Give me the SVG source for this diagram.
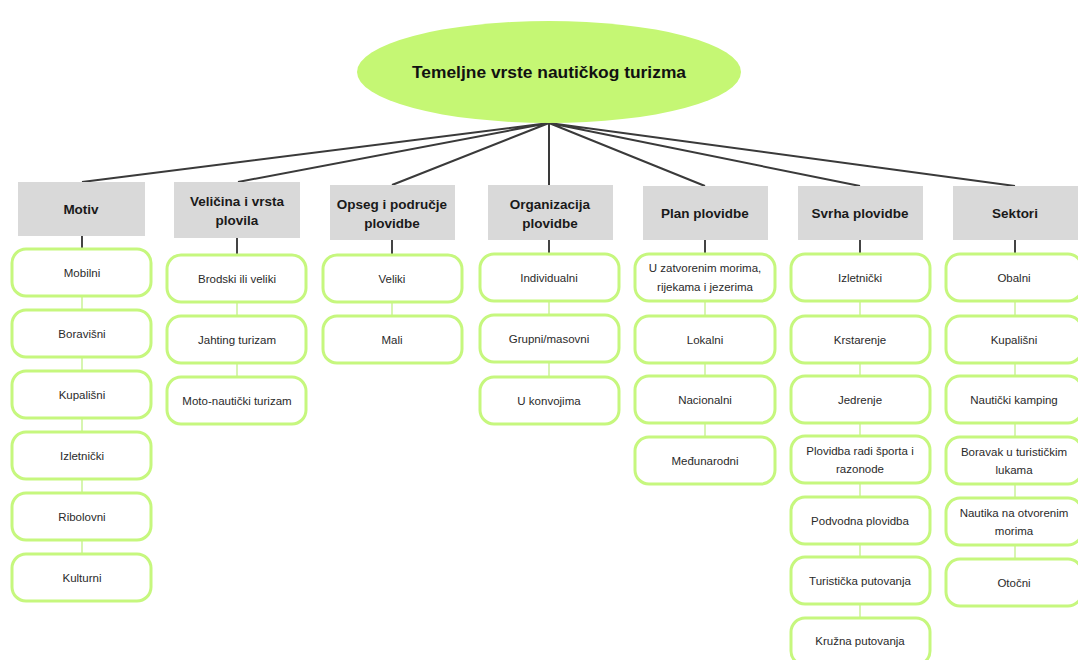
<svg xmlns="http://www.w3.org/2000/svg" width="1078" height="660" viewBox="0 0 1078 660">
<style>
.hdr{fill:#d9d9d9}
.ht{font-family:"Liberation Sans",Arial,sans-serif;font-weight:bold;font-size:13.5px;fill:#1a1a1a;text-anchor:middle}
.box{fill:#fff;stroke:#c6f77e;stroke-width:3}
.bt{font-family:"Liberation Sans",Arial,sans-serif;font-size:11.5px;fill:#2a2a2a;text-anchor:middle}
.main{stroke:#3a3a3a;stroke-width:2;fill:none}
.dk{stroke:#444;stroke-width:2;fill:none}
.gr{stroke:#d7f5b0;stroke-width:2;fill:none}
</style>
<rect width="1078" height="660" fill="#fff"/>
<g id="connectors">
<path class="main" d="M549 123L82 182M549 123L238 182M549 123L392 185M549 123L549 185M549 123L705 186M549 123L860 186M549 123L1015 186"/>
<path class="dk" d="M82 236V249M237 238V255M392 240V255M549 240V254M705 240V254M860 240V254M1015 240V254"/>
<path class="gr" d="M82 296V310M82 357V371M82 418V432M82 479V493M82 540V554"/>
<path class="gr" d="M237 302V316M237 363V377"/>
<path class="gr" d="M392 302V316"/>
<path class="gr" d="M549 301V315M549 362V377"/>
<path class="gr" d="M705 301V316M705 363V376M705 423V437"/>
<path class="gr" d="M860 301V316M860 363V376M860 423V436M860 483V497M860 544V557M860 604V618"/>
<path class="gr" d="M1015 301V316M1015 363V376M1015 423V437M1015 484V498M1015 545V559"/>
</g>
<g id="root">
<ellipse cx="549" cy="72" rx="192" ry="51" fill="#c5f774"/>
<text x="549" y="78" font-family="'Liberation Sans',Arial,sans-serif" font-weight="bold" font-size="17" fill="#111" text-anchor="middle" textLength="274" lengthAdjust="spacingAndGlyphs">Temeljne vrste nautičkog turizma</text>
</g>
<g id="h-motiv"><rect class="hdr" x="18" y="182" width="127" height="54"/><text class="ht" x="81" y="214">Motiv</text></g>
<g id="h-velicina"><rect class="hdr" x="174" y="182" width="126" height="56"/><text class="ht" x="237" y="206">Veličina i vrsta</text><text class="ht" x="237" y="225">plovila</text></g>
<g id="h-opseg"><rect class="hdr" x="330" y="185" width="125" height="55"/><text class="ht" x="392" y="209">Opseg i područje</text><text class="ht" x="392" y="228">plovidbe</text></g>
<g id="h-org"><rect class="hdr" x="488" y="185" width="125" height="55"/><text class="ht" x="550" y="209">Organizacija</text><text class="ht" x="550" y="228">plovidbe</text></g>
<g id="h-plan"><rect class="hdr" x="643" y="186" width="125" height="54"/><text class="ht" x="705" y="218">Plan plovidbe</text></g>
<g id="h-svrha"><rect class="hdr" x="798" y="186" width="125" height="54"/><text class="ht" x="860" y="218">Svrha plovidbe</text></g>
<g id="h-sektori"><rect class="hdr" x="953" y="186" width="130" height="54"/><text class="ht" x="1015" y="218">Sektori</text></g>

<g id="n-mobilni"><rect class="box" x="12" y="249" width="139" height="47" rx="14"/><text class="bt" x="82" y="277">Mobilni</text></g>
<g id="n-boravisni"><rect class="box" x="12" y="310" width="139" height="47" rx="14"/><text class="bt" x="82" y="338">Boravišni</text></g>
<g id="n-kupalisni1"><rect class="box" x="12" y="371" width="139" height="47" rx="14"/><text class="bt" x="82" y="399">Kupališni</text></g>
<g id="n-izletnicki1"><rect class="box" x="12" y="432" width="139" height="47" rx="14"/><text class="bt" x="82" y="460">Izletnički</text></g>
<g id="n-ribolovni"><rect class="box" x="12" y="493" width="139" height="47" rx="14"/><text class="bt" x="82" y="521">Ribolovni</text></g>
<g id="n-kulturni"><rect class="box" x="12" y="554" width="139" height="47" rx="14"/><text class="bt" x="82" y="582">Kulturni</text></g>

<g id="n-brodski"><rect class="box" x="167" y="255" width="139" height="47" rx="14"/><text class="bt" x="237" y="283">Brodski ili veliki</text></g>
<g id="n-jahting"><rect class="box" x="167" y="316" width="139" height="47" rx="14"/><text class="bt" x="237" y="344">Jahting turizam</text></g>
<g id="n-moto"><rect class="box" x="167" y="377" width="139" height="47" rx="14"/><text class="bt" x="237" y="405">Moto-nautički turizam</text></g>

<g id="n-veliki"><rect class="box" x="323" y="255" width="139" height="47" rx="14"/><text class="bt" x="392" y="283">Veliki</text></g>
<g id="n-mali"><rect class="box" x="323" y="316" width="139" height="47" rx="14"/><text class="bt" x="392" y="344">Mali</text></g>

<g id="n-individualni"><rect class="box" x="480" y="254" width="139" height="47" rx="14"/><text class="bt" x="549" y="282">Individualni</text></g>
<g id="n-grupni"><rect class="box" x="480" y="315" width="139" height="47" rx="14"/><text class="bt" x="549" y="343">Grupni/masovni</text></g>
<g id="n-konvoj"><rect class="box" x="480" y="377" width="139" height="47" rx="14"/><text class="bt" x="549" y="405">U konvojima</text></g>

<g id="n-zatvorenim"><rect class="box" x="635" y="254" width="140" height="47" rx="14"/><text class="bt" x="705" y="272">U zatvorenim morima,</text><text class="bt" x="705" y="291">rijekama i jezerima</text></g>
<g id="n-lokalni"><rect class="box" x="635" y="316" width="140" height="47" rx="14"/><text class="bt" x="705" y="344">Lokalni</text></g>
<g id="n-nacionalni"><rect class="box" x="635" y="376" width="140" height="47" rx="14"/><text class="bt" x="705" y="404">Nacionalni</text></g>
<g id="n-medunarodni"><rect class="box" x="635" y="437" width="140" height="47" rx="14"/><text class="bt" x="705" y="465">Međunarodni</text></g>

<g id="n-izletnicki2"><rect class="box" x="791" y="254" width="139" height="47" rx="14"/><text class="bt" x="860" y="282">Izletnički</text></g>
<g id="n-krstarenje"><rect class="box" x="791" y="316" width="139" height="47" rx="14"/><text class="bt" x="860" y="344">Krstarenje</text></g>
<g id="n-jedrenje"><rect class="box" x="791" y="376" width="139" height="47" rx="14"/><text class="bt" x="860" y="404">Jedrenje</text></g>
<g id="n-sport"><rect class="box" x="791" y="436" width="139" height="47" rx="14"/><text class="bt" x="860" y="455">Plovidba radi športa i</text><text class="bt" x="860" y="473">razonode</text></g>
<g id="n-podvodna"><rect class="box" x="791" y="497" width="139" height="47" rx="14"/><text class="bt" x="860" y="525">Podvodna plovidba</text></g>
<g id="n-turisticka"><rect class="box" x="791" y="557" width="139" height="47" rx="14"/><text class="bt" x="860" y="585">Turistička putovanja</text></g>
<g id="n-kruzna"><rect class="box" x="791" y="618" width="139" height="47" rx="14"/><text class="bt" x="860" y="645">Kružna putovanja</text></g>

<g id="n-obalni"><rect class="box" x="946" y="254" width="136" height="47" rx="14"/><text class="bt" x="1014" y="282">Obalni</text></g>
<g id="n-kupalisni2"><rect class="box" x="946" y="316" width="136" height="47" rx="14"/><text class="bt" x="1014" y="344">Kupališni</text></g>
<g id="n-kamping"><rect class="box" x="946" y="376" width="136" height="47" rx="14"/><text class="bt" x="1014" y="404">Nautički kamping</text></g>
<g id="n-boravak"><rect class="box" x="946" y="437" width="136" height="47" rx="14"/><text class="bt" x="1014" y="456">Boravak u turističkim</text><text class="bt" x="1014" y="474">lukama</text></g>
<g id="n-nautika"><rect class="box" x="946" y="498" width="136" height="47" rx="14"/><text class="bt" x="1014" y="517">Nautika na otvorenim</text><text class="bt" x="1014" y="535">morima</text></g>
<g id="n-otocni"><rect class="box" x="946" y="559" width="136" height="47" rx="14"/><text class="bt" x="1014" y="587">Otočni</text></g>
</svg>
